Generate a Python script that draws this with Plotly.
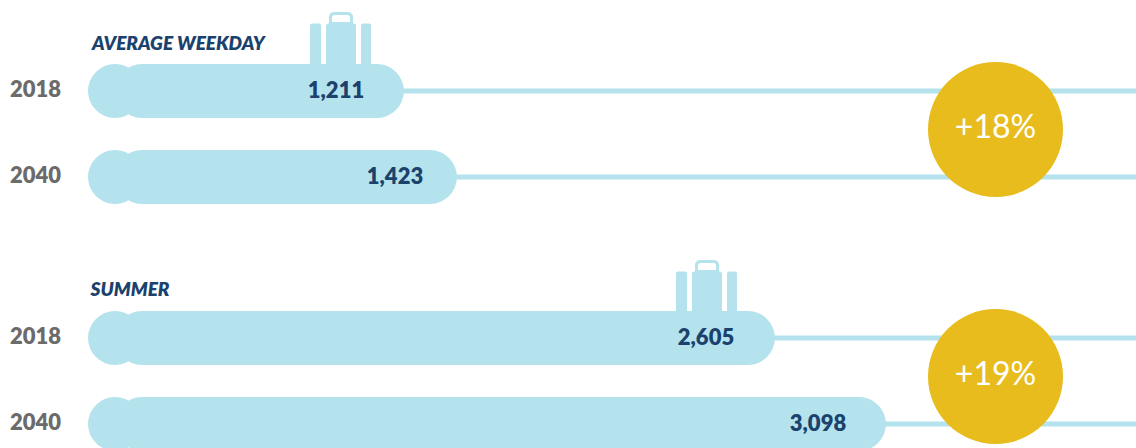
import plotly.graph_objects as go

# ---------- data ----------
years = ["2018", "2040", "2018", "2040"]
group_titles = ["AVERAGE WEEKDAY", "SUMMER"]
value_labels = ["1,211", "1,423", "2,605", "3,098"]
# bar lengths as drawn in the picture (they do not follow the printed labels exactly)
drawn_lengths = [1215, 1419, 2642, 3069]
changes = ["+18%", "+19%"]

# ---------- layout helpers ----------
W, H = 1136, 448
SCALE = 0.26            # pixels per unit
X0 = 88                 # pixel of axis zero
ROWS = [91, 177, 338, 424]
BADGE_Y = [129.5, 376.5]
BAR_H = 54
CAP = (BAR_H / 2) / SCALE
LIGHT = "#b4e2ed"
NAVY = "#1b426d"
GOLD = "#e8bc1d"
GREY = "#6b6b6b"
FONT = "Lato"


def ux(px):
    return (px - X0) / SCALE


fig = go.Figure()

# leader lines
for length, y in zip(drawn_lengths, ROWS):
    fig.add_trace(go.Scatter(x=[length - CAP, ux(W + 5)], y=[y, y], mode="lines",
                             line=dict(color=LIGHT, width=5), hoverinfo="skip"))

# bars: rounded far end from the bar, rounded near end from a circular cap
fig.add_trace(go.Bar(x=[v - CAP for v in drawn_lengths], y=ROWS, base=CAP, orientation="h",
                     width=BAR_H, marker=dict(color=LIGHT, line_width=0, cornerradius=BAR_H / 2),
                     hoverinfo="skip"))
fig.add_trace(go.Scatter(x=[CAP] * 4, y=ROWS, mode="markers",
                         marker=dict(size=BAR_H, color=LIGHT, line_width=0), hoverinfo="skip"))

# value labels
label_cx = [336, 395, 706, 818]
fig.add_trace(go.Scatter(x=[ux(p) for p in label_cx], y=[r + 1.5 for r in ROWS], mode="text",
                         text=value_labels, textposition="middle center",
                         textfont=dict(family=FONT, size=22, color=NAVY, weight=800), hoverinfo="skip"))

# year labels
fig.add_trace(go.Scatter(x=[ux(10)] * 4, y=[r for r in ROWS], mode="text", text=years,
                         textposition="middle right",
                         textfont=dict(family=FONT, size=22, color=GREY, weight=800), hoverinfo="skip"))

# group titles
fig.add_trace(go.Scatter(x=[ux(92), ux(90.5)], y=[45, 291], mode="text",
                         text=[f"<i>{t}</i>" for t in group_titles], textposition="middle right",
                         textfont=dict(family=FONT, size=19, color=NAVY, weight=800), hoverinfo="skip"))

# change badges
fig.add_trace(go.Scatter(x=[ux(995.5)] * 2, y=BADGE_Y, mode="markers+text", text=changes,
                         textposition="middle center",
                         marker=dict(size=135, color=GOLD, line_width=0),
                         textfont=dict(family=FONT, size=32, color="white"), hoverinfo="skip"))

# suitcase icons
shapes = []
for left, top, bottom in [(310, 13.5, 65), (676, 261.5, 312)]:
    body = top + 10
    common = dict(type="path", xref="x", yref="y", layer="above")

    def rrect(x0, x1, y0, y1, r=3):
        return (f"M{ux(x0)},{y1} L{ux(x0)},{y0 + r} Q{ux(x0)},{y0} {ux(x0 + r)},{y0} "
                f"L{ux(x1 - r)},{y0} Q{ux(x1)},{y0} {ux(x1)},{y0 + r} L{ux(x1)},{y1} Z")

    for a, b in [(0, 11), (16, 46), (51, 61)]:
        shapes.append(dict(path=rrect(left + a, left + b, body, bottom, 2), fillcolor=LIGHT, line_width=0, **common))
    shapes.append(dict(path=rrect(left + 20.5, left + 41.5, top, body, 4), fillcolor="rgba(0,0,0,0)",
                       line=dict(color=LIGHT, width=3), **common))

fig.update_layout(
    width=W, height=H, margin=dict(l=0, r=0, t=0, b=0), showlegend=False,
    plot_bgcolor="white", paper_bgcolor="white", shapes=shapes,
    xaxis=dict(range=[ux(0), ux(W)], visible=False, fixedrange=True),
    yaxis=dict(range=[H, 0], visible=False, fixedrange=True),
    barmode="overlay",
)

fig.write_html("out.html", config={"displayModeBar": False},
               post_script="document.body.style.margin='0';document.body.style.overflow='hidden';")
